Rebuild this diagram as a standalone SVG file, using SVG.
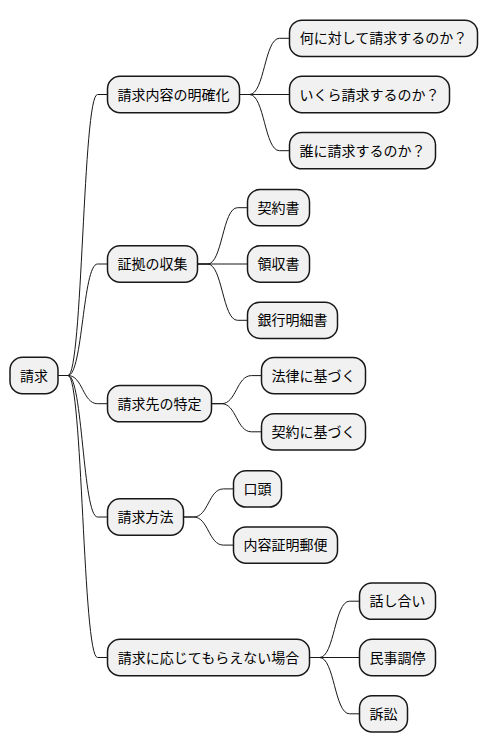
<svg xmlns="http://www.w3.org/2000/svg" width="488" height="752" viewBox="0 0 488 752">
<style>
.n rect{fill:#F1F1F1;stroke:#181818;stroke-width:1.5}
.n text{font-family:"Noto Sans CJK JP","Noto Sans",sans-serif;font-size:14px;fill:#000;text-anchor:middle}
.c path{fill:none;stroke:#181818;stroke-width:1}
</style>
<rect width="488" height="752" fill="#fff"/>
<g id="connectors" class="c">
<path d="M58,375.5 H68 C82.75,375.5 82.75,94.5 97.5,94.5 H107.5"/>
<path d="M58,375.5 H68 C82.75,375.5 82.75,264 97.5,264 H107.5"/>
<path d="M58,375.5 H68 C82.75,375.5 82.75,403.7 97.5,403.7 H107.5"/>
<path d="M58,375.5 H68 C82.75,375.5 82.75,517 97.5,517 H107.5"/>
<path d="M58,375.5 H68 C82.75,375.5 82.75,657.5 97.5,657.5 H107.5"/>
<path d="M239.5,94.5 H249.5 C264.5,94.5 264.5,38.3 279.5,38.3 H289.5"/>
<path d="M239.5,94.5 H289.5"/>
<path d="M239.5,94.5 H249.5 C264.5,94.5 264.5,150.7 279.5,150.7 H289.5"/>
<path d="M197.5,264 H207.5 C222.5,264 222.5,207.7 237.5,207.7 H247.5"/>
<path d="M197.5,264 H247.5"/>
<path d="M197.5,264 H207.5 C222.5,264 222.5,320.3 237.5,320.3 H247.5"/>
<path d="M211.5,403.7 H221.5 C236.5,403.7 236.5,375.6 251.5,375.6 H261.5"/>
<path d="M211.5,403.7 H221.5 C236.5,403.7 236.5,431.8 251.5,431.8 H261.5"/>
<path d="M183.5,517 H193.5 C208.5,517 208.5,488.9 223.5,488.9 H233.5"/>
<path d="M183.5,517 H193.5 C208.5,517 208.5,545.1 223.5,545.1 H233.5"/>
<path d="M309.5,657.5 H319.5 C334.5,657.5 334.5,601.2 349.5,601.2 H359.5"/>
<path d="M309.5,657.5 H359.5"/>
<path d="M309.5,657.5 H319.5 C334.5,657.5 334.5,713.8 349.5,713.8 H359.5"/>
</g>
<g id="root" class="n"><rect x="10" y="357.35" width="48" height="36.3" rx="12.5"/><text x="34" y="380.5">請求</text></g>
<g id="n1" class="n"><rect x="107.5" y="76.35" width="132" height="36.3" rx="12.5"/><text x="173.5" y="99.5">請求内容の明確化</text></g>
<g id="n1a" class="n"><rect x="289.5" y="20.15" width="188" height="36.3" rx="12.5"/><text x="383.5" y="43.3">何に対して請求するのか？</text></g>
<g id="n1b" class="n"><rect x="289.5" y="76.35" width="160" height="36.3" rx="12.5"/><text x="369.5" y="99.5">いくら請求するのか？</text></g>
<g id="n1c" class="n"><rect x="289.5" y="132.55" width="146" height="36.3" rx="12.5"/><text x="362.5" y="155.7">誰に請求するのか？</text></g>
<g id="n2" class="n"><rect x="107.5" y="245.85" width="90" height="36.3" rx="12.5"/><text x="152.5" y="269">証拠の収集</text></g>
<g id="n2a" class="n"><rect x="247.5" y="189.55" width="62" height="36.3" rx="12.5"/><text x="278.5" y="212.7">契約書</text></g>
<g id="n2b" class="n"><rect x="247.5" y="245.85" width="62" height="36.3" rx="12.5"/><text x="278.5" y="269">領収書</text></g>
<g id="n2c" class="n"><rect x="247.5" y="302.15" width="90" height="36.3" rx="12.5"/><text x="292.5" y="325.3">銀行明細書</text></g>
<g id="n3" class="n"><rect x="107.5" y="385.55" width="104" height="36.3" rx="12.5"/><text x="159.5" y="408.7">請求先の特定</text></g>
<g id="n3a" class="n"><rect x="261.5" y="357.45" width="104" height="36.3" rx="12.5"/><text x="313.5" y="380.6">法律に基づく</text></g>
<g id="n3b" class="n"><rect x="261.5" y="413.65" width="104" height="36.3" rx="12.5"/><text x="313.5" y="436.8">契約に基づく</text></g>
<g id="n4" class="n"><rect x="107.5" y="498.85" width="76" height="36.3" rx="12.5"/><text x="145.5" y="522">請求方法</text></g>
<g id="n4a" class="n"><rect x="233.5" y="470.75" width="48" height="36.3" rx="12.5"/><text x="257.5" y="493.9">口頭</text></g>
<g id="n4b" class="n"><rect x="233.5" y="526.95" width="104" height="36.3" rx="12.5"/><text x="285.5" y="550.1">内容証明郵便</text></g>
<g id="n5" class="n"><rect x="107.5" y="639.35" width="202" height="36.3" rx="12.5"/><text x="208.5" y="662.5">請求に応じてもらえない場合</text></g>
<g id="n5a" class="n"><rect x="359.5" y="583.05" width="76" height="36.3" rx="12.5"/><text x="397.5" y="606.2">話し合い</text></g>
<g id="n5b" class="n"><rect x="359.5" y="639.35" width="76" height="36.3" rx="12.5"/><text x="397.5" y="662.5">民事調停</text></g>
<g id="n5c" class="n"><rect x="359.5" y="695.65" width="48" height="36.3" rx="12.5"/><text x="383.5" y="718.8">訴訟</text></g>
</svg>
